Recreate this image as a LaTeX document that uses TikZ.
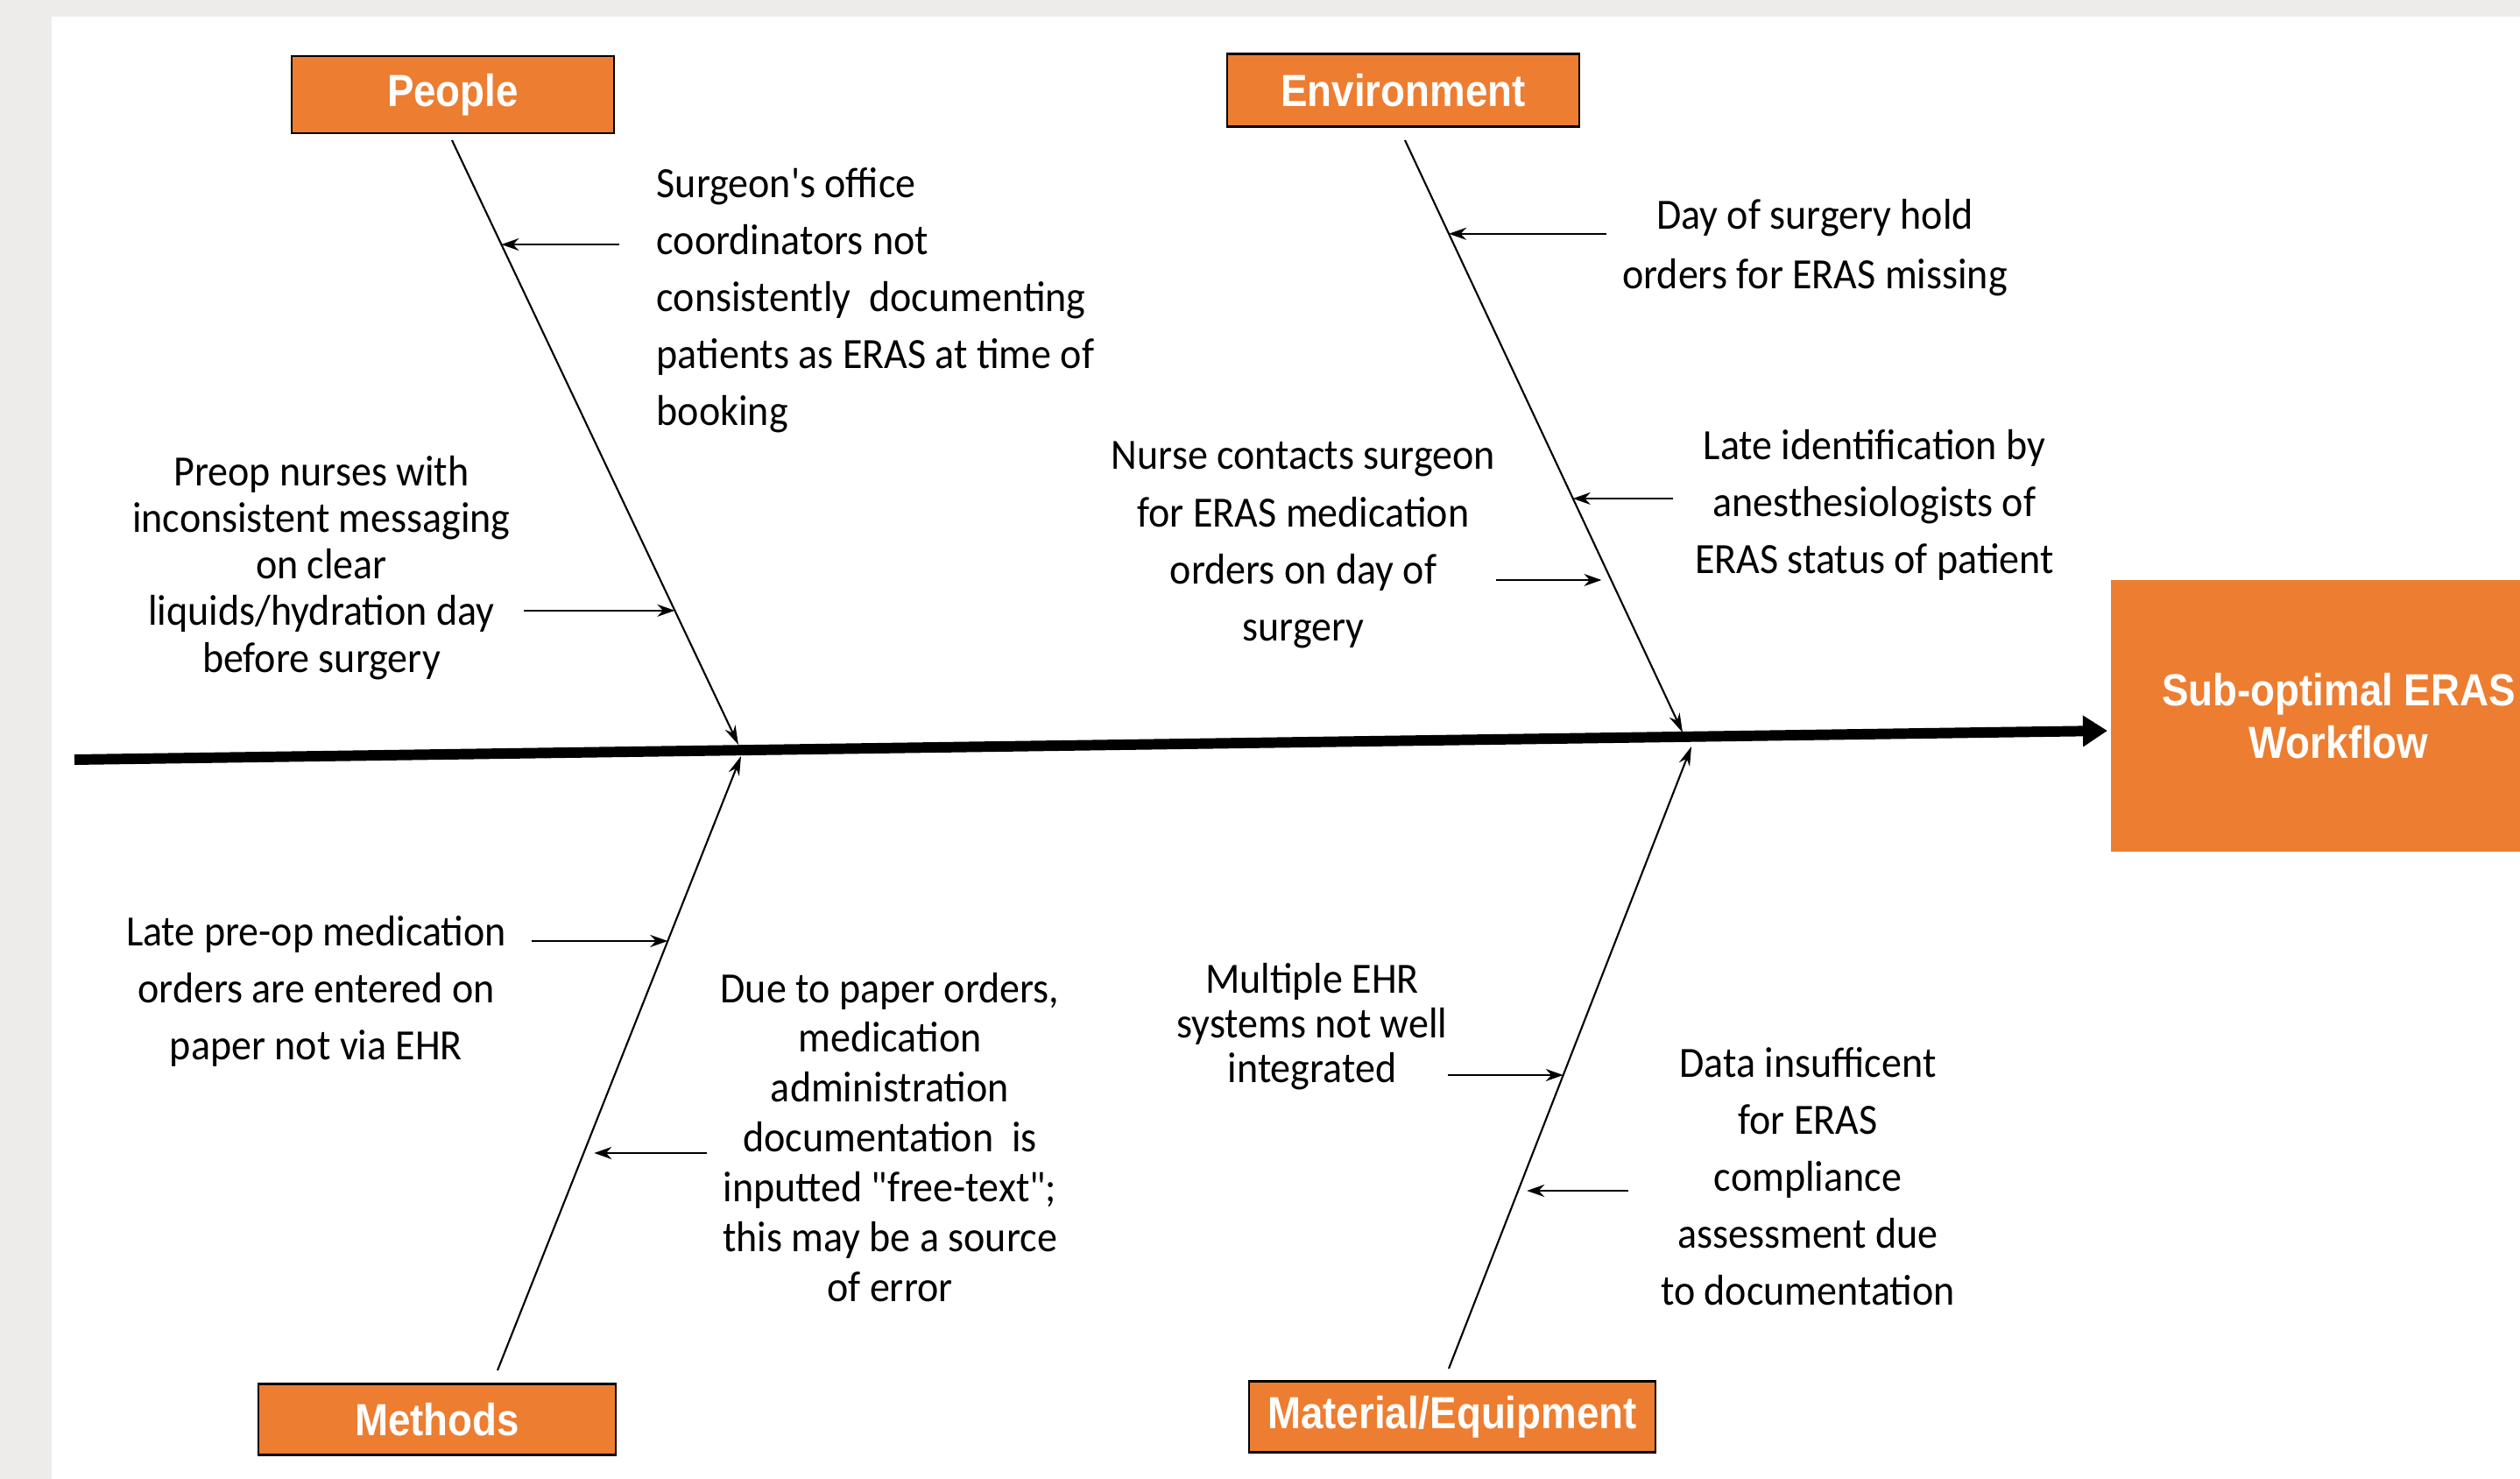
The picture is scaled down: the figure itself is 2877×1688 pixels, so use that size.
\documentclass[tikz,border=0pt]{standalone}
\usepackage{fontspec}
\setmainfont{Carlito}[FakeStretch=0.935, Ligatures=TeXOff]
\newfontfamily\headfont{Liberation Sans}[FakeStretch=0.89]
\usetikzlibrary{arrows.meta,calc}
\definecolor{erasorange}{HTML}{ED7D31}
\definecolor{pagegray}{HTML}{EDECEA}

\begin{document}
\begin{tikzpicture}[
  x=0.01cm, y=-0.01cm,
  category/.style={draw=black, line width=0.6pt, fill=erasorange, text=white,
                   font=\headfont\bfseries\fontsize{14.6}{17}\selectfont, inner sep=0pt},
  effect/.style={fill=erasorange, text=white, align=center, inner sep=0pt,
                 font=\headfont\bfseries\fontsize{14.6}{17}\selectfont},
  cause/.style={align=center, inner sep=0pt, font=\fontsize{14}{#1}\selectfont},
  cause/.default=18.5,
  spine/.style={line width=3.4pt, -{Triangle[length=0.28cm, width=0.34cm]}},
  bone/.style={line width=0.6pt, -{Stealth[length=0.22cm, width=0.13cm]}},
  arrow/.style={line width=0.6pt, -{Stealth[length=0.2cm, width=0.14cm]}},
  ]

% ---- Page ------------------------------------------------------------------
\useasboundingbox (0,0) rectangle (2877,1688);
\fill[pagegray] (0,0) rectangle (2877,1688);
\fill[white] (59,19) rectangle (2877,1688);

% ---- Effect and spine ------------------------------------------------------
\node[effect, minimum width=5.2cm, minimum height=3.1cm] (effect) at (2670,817)
  {Sub-optimal ERAS\\Workflow};
\coordinate (tail) at (85,867);
\coordinate (head) at (2406,834);
\draw[spine] (tail) -- (head);

% ---- Categories ------------------------------------------------------------
\node[category, minimum width=3.67cm, minimum height=0.88cm] (people) at (517,108) {People};
\node[category, minimum width=4.02cm, minimum height=0.83cm] (environment) at (1602,103) {Environment};
\node[category, minimum width=4.08cm, minimum height=0.81cm] (methods) at (499,1620) {Methods};
\node[category, minimum width=4.64cm, minimum height=0.81cm] (material) at (1658,1617) {Material/Equipment};

% ---- Bones -----------------------------------------------------------------
\coordinate (peopleTop) at (516,160);    \coordinate (peopleJoin) at (843,850);
\coordinate (envTop) at (1604,160);      \coordinate (envJoin) at (1921,836);
\coordinate (methodsTop) at (568,1564);  \coordinate (methodsJoin) at (846,863);
\coordinate (materialTop) at (1654,1562);\coordinate (materialJoin) at (1931,852);
\draw[bone] (peopleTop) -- (peopleJoin);
\draw[bone] (envTop) -- (envJoin);
\draw[bone] (methodsTop) -- (methodsJoin);
\draw[bone] (materialTop) -- (materialJoin);

% points where the causes hit the bones
\coordinate (p1) at ($(peopleTop)!0.1725!(peopleJoin)$);
\coordinate (p2) at ($(peopleTop)!0.778!(peopleJoin)$);
\coordinate (e1) at ($(envTop)!0.158!(envJoin)$);
\coordinate (e2) at ($(envTop)!0.605!(envJoin)$);
\coordinate (e3) at ($(envTop)!0.7426!(envJoin)$);
\coordinate (m1) at ($(methodsTop)!0.699!(methodsJoin)$);
\coordinate (m2) at ($(methodsTop)!0.3538!(methodsJoin)$);
\coordinate (q1) at ($(materialTop)!0.4718!(materialJoin)$);
\coordinate (q2) at ($(materialTop)!0.2859!(materialJoin)$);

% ---- People ----------------------------------------------------------------
\node[cause, align=left, anchor=west] (txtA) at (749,343)
  {Surgeon's office\\coordinators not\\consistently\ \ documenting\\patients as ERAS at time of\\booking};
\node[cause=15.1] (txtB) at (367,648)
  {Preop nurses with\\inconsistent messaging\\on clear\\liquids/hydration day\\before surgery};
\draw[arrow, shorten <=0.42cm] (txtA.west |- p1) -- (p1);
\draw[arrow, shorten <=0.14cm] (txtB.east |- p2) -- (p2);

% ---- Environment -----------------------------------------------------------
\node[cause=19.3] (txtC) at (2072,283) {Day of surgery hold\\orders for ERAS missing};
\node[cause] (txtD) at (2140,576)
  {Late identification by\\anesthesiologists of\\ERAS status of patient};
\node[cause] (txtE) at (1488,622)
  {Nurse contacts surgeon\\for ERAS medication\\orders on day of\\surgery};
\draw[arrow, shorten <=0.17cm] (txtC.west |- e1) -- (e1);
\draw[arrow, shorten <=0.24cm] (txtD.west |- e2) -- (e2);
\draw[arrow, shorten >=0.11cm] (txtE.east |- e3) -- (e3);

% ---- Methods ---------------------------------------------------------------
\node[cause] (txtF) at (361,1131)
  {Late pre-op medication\\orders are entered on\\paper not via EHR};
\node[cause=16.2] (txtG) at (1016,1298)
  {Due to paper orders,\\medication\\administration\\documentation\ \ is\\inputted "free-text";\\this may be a source\\of error};
\draw[arrow, shorten <=0.28cm] (txtF.east |- m1) -- (m1);
\draw[arrow, shorten <=0.15cm, shorten >=0.12cm] (txtG.west |- m2) -- (m2);

% ---- Material/Equipment ----------------------------------------------------
\node[cause=14.5] (txtH) at (1498,1172)
  {Multiple EHR\\systems not well\\integrated};
\node[cause] (txtI) at (2064,1343)
  {Data insufficent\\for ERAS\\compliance\\assessment due\\to documentation};
\draw[arrow] (txtH.east |- q1) -- (q1);
\draw[arrow, shorten <=0.36cm, shorten >=0.1cm] (txtI.west |- q2) -- (q2);

\end{tikzpicture}
\end{document}
